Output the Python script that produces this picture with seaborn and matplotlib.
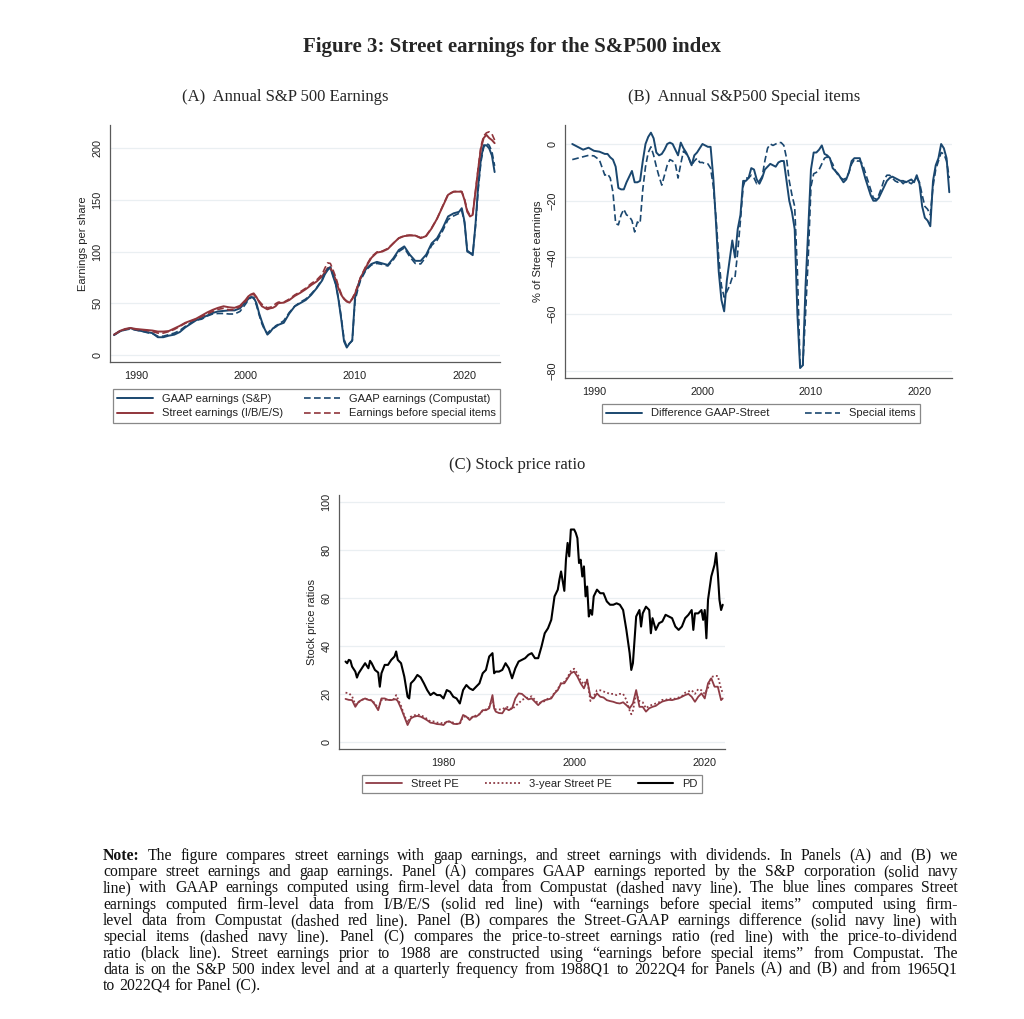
import numpy as np
import matplotlib
matplotlib.use("Agg")
from matplotlib import pyplot as plt
import seaborn as sns

# ---------------- data ----------------
# Panel A: trailing annual S&P 500 EPS
dates_a = [1988.0, 1988.5, 1989.0, 1989.5, 1990.0, 1990.5, 1991.0, 1991.5, 1992.0, 1992.5,
           1993.0, 1993.5, 1994.0, 1994.5, 1995.0, 1995.5, 1996.0, 1996.5, 1997.0, 1997.5,
           1998.0, 1998.5, 1999.0, 1999.5, 2000.0, 2000.25, 2000.5, 2000.75, 2001.0, 2001.25,
           2001.5, 2001.75, 2002.0, 2002.25, 2002.5, 2002.75, 2003.0, 2003.5, 2004.0, 2004.5,
           2005.0, 2005.5, 2006.0, 2006.5, 2007.0, 2007.25, 2007.5, 2007.75, 2008.0, 2008.25,
           2008.5, 2008.75, 2009.0, 2009.25, 2009.5, 2009.75, 2010.0, 2010.25, 2010.5, 2011.0,
           2011.5, 2012.0, 2012.5, 2013.0, 2013.5, 2014.0, 2014.5, 2015.0, 2015.5, 2016.0,
           2016.5, 2017.0, 2017.5, 2018.0, 2018.5, 2019.0, 2019.5, 2019.75, 2020.0, 2020.25,
           2020.5, 2020.75, 2021.0, 2021.25, 2021.5, 2021.75, 2022.0, 2022.25, 2022.5, 2022.75]
gaap_sp = [19, 22.5, 24.5, 25.8, 24, 23, 22, 21, 17, 17,
           18.5, 19.5, 22, 26.5, 30, 33.5, 35.5, 38, 40.5, 42,
           42.5, 43, 43, 45, 51, 54, 56, 55.5, 50, 40,
           32, 25, 19.5, 22, 25.5, 27, 29, 31, 40, 47,
           50, 53, 58, 64.5, 72, 78, 82, 84.5, 76, 68,
           53, 34, 13, 7, 11, 14, 55, 66, 74, 83,
           88, 90, 88.5, 87, 93.5, 101.5, 105, 97, 91, 91,
           97, 108, 113, 122.5, 134, 137, 138.5, 142, 129, 100,
           98.5, 96.5, 126, 164, 190, 203, 203, 200, 193, 177]
gaap_cs = [19.5, 22.5, 24, 25, 24, 23, 21.5, 20.5, 18, 18,
           19.5, 21, 23.5, 27.5, 31, 33.5, 34.5, 37.5, 39.5, 40,
           40, 39.5, 39.5, 42, 49, 53, 55.5, 55, 48, 38.5,
           30, 24, 21, 23.5, 25, 28, 29.5, 33, 41, 47,
           51, 54, 59, 65, 73, 79, 83, 85, 77, 68.5,
           54, 36, 15, 8, 11, 13.5, 52, 63, 72, 82,
           87, 88.5, 87.5, 86, 92, 100, 103.5, 95, 88.5, 88,
           95, 106, 111, 120, 131, 134.5, 137, 139.5, 128, 101,
           99, 98, 124, 160, 187, 201, 205, 203, 197, 183]
street = [19.5, 23, 25, 26, 25, 24.5, 24, 23.5, 22.5, 22.5,
          23, 25.5, 28, 31, 33, 35, 38, 41, 43.5, 45.5,
          47, 46, 45.5, 47.5, 53, 56.5, 58.5, 59.5, 56, 51,
          47, 45.5, 44, 45, 45.5, 47, 50, 50.5, 53, 57,
          60, 63.5, 67.5, 71, 76, 80, 84, 84.5, 79, 72.5,
          64, 58, 54, 51.5, 50.5, 54, 59, 66, 74, 85,
          94, 99, 100, 102.5, 108, 113, 115, 115.5, 115.5, 113,
          115, 122.5, 132, 143.5, 155, 158, 158, 158, 150, 138.5,
          134, 135.5, 158, 180, 200, 210, 213, 210, 208, 205]
ebsi = [19.5, 22.5, 24.5, 25.5, 24.5, 24, 23.5, 22.5, 21, 21,
        22.5, 24.5, 27.5, 30.5, 32.5, 34.5, 37, 39.5, 42, 44,
        45, 43.5, 44, 46.5, 51.5, 55.5, 58, 58.5, 55, 52,
        49, 47, 45.5, 46, 47, 49.5, 51, 51, 54, 58,
        61, 64.5, 69, 72.5, 78, 84, 89, 88.5, 82, 75,
        66, 59, 54.5, 52, 51, 54.5, 60, 67, 75, 86,
        95, 99.5, 100.5, 103, 108, 113, 115.5, 116, 115.5, 113.5,
        115.5, 123, 132, 144, 155.5, 158, 158.5, 158, 151, 140,
        135, 137, 158, 181, 202, 212, 215, 216, 214, 208]

# Panel B: special items, % of Street earnings
dates_b = [1988.0, 1988.5, 1989.0, 1989.5, 1990.0, 1990.5,
           1991.0, 1991.25, 1991.5, 1991.75, 1992.0, 1992.25, 1992.5, 1992.75,
           1993.0, 1993.25, 1993.5, 1993.75, 1994.0, 1994.25, 1994.5, 1994.75,
           1995.0, 1995.25, 1995.5, 1995.75, 1996.0, 1996.25, 1996.5, 1996.75,
           1997.0, 1997.25, 1997.5, 1997.75, 1998.0, 1998.25, 1998.5, 1998.75,
           1999.0, 1999.25, 1999.5, 1999.75, 2000.0, 2000.25, 2000.5, 2000.75,
           2001.0, 2001.25, 2001.5, 2001.75, 2002.0, 2002.25, 2002.5, 2002.75,
           2003.0, 2003.25, 2003.5, 2003.75, 2004.0, 2004.25, 2004.5, 2004.75,
           2005.0, 2005.25, 2005.5, 2005.75, 2006.0, 2006.25, 2006.5, 2006.75,
           2007.0, 2007.25, 2007.5, 2007.75, 2008.0, 2008.25, 2008.5, 2008.75,
           2009.0, 2009.25, 2009.5, 2009.75, 2010.0, 2010.25, 2010.5, 2010.75,
           2011.0, 2011.25, 2011.5, 2011.75, 2012.0, 2012.25, 2012.5, 2012.75,
           2013.0, 2013.25, 2013.5, 2013.75, 2014.0, 2014.25, 2014.5, 2014.75,
           2015.0, 2015.25, 2015.5, 2015.75, 2016.0, 2016.25, 2016.5, 2016.75,
           2017.0, 2017.25, 2017.5, 2017.75, 2018.0, 2018.25, 2018.5, 2018.75,
           2019.0, 2019.25, 2019.5, 2019.75, 2020.0, 2020.25, 2020.5, 2020.75,
           2021.0, 2021.25, 2021.5, 2021.75, 2022.0, 2022.25, 2022.5, 2022.75]
diff_gaap_street = [0, -1, -2, -1.3, -2.4, -2.7,
                    -3.5, -3.5, -4.7, -5.5, -8, -15.5, -16, -16,
                    -13.5, -11.5, -9.5, -13.5, -13.5, -13, -6, 0,
                    2.5, 4, 2, -3, -4, -3.5, -2, 0,
                    0.5, 0, -2, -4, 0.5, -1.5, -3, -5,
                    -7.5, -4, -3, -1.5, 0, -0.5, -1, -1,
                    -12, -28, -45, -55, -59, -48, -41, -34,
                    -40, -30, -25, -13, -13, -12, -8.5, -9,
                    -12.5, -14, -12, -9, -8, -7, -7.5, -8,
                    -6.5, -6, -6, -13, -20, -24, -30, -60,
                    -79, -78, -50, -30, -9, -3, -3, -2,
                    -0.5, -3.5, -4, -5, -8.5, -9.5, -10.5, -12,
                    -13.5, -12.5, -10, -6, -5, -5, -5, -8.5,
                    -12, -15, -18, -20, -20, -19, -17, -15,
                    -13, -12, -11.5, -12, -12.5, -13, -13, -13.5,
                    -13, -12.5, -13.5, -11, -14, -22, -26, -27,
                    -29, -13, -7.5, -5, 0, -1.5, -5, -17]
special_items = [-5.5, -5, -4.5, -4, -4.2, -5.6,
                 -11, -10.5, -12, -17, -28, -28.5, -25, -23,
                 -25, -25.5, -27, -31, -27.5, -28, -16, -8,
                 -3, -1, -4, -8, -11.5, -14.5, -11, -7.5,
                 -5.5, -6, -7, -12, -7, -2.5, -3.5, -5,
                 -7.5, -6, -5, -6.5, -6.5, -7, -7, -8.5,
                 -15, -26, -40, -50, -54, -52, -50, -47,
                 -47, -38, -27, -15, -12, -12, -11, -12,
                 -14, -13, -11.5, -6, -1.5, 0, -0.5, 0,
                 0.5, 0.5, -0.5, -5, -13, -18, -22, -45,
                 -78.5, -78, -60, -40, -15, -10.5, -10, -9,
                 -7, -5, -4.5, -5.5, -7, -9.5, -11, -12,
                 -12.5, -12, -10, -7, -5.5, -6, -6, -7,
                 -10, -13, -16, -19, -19.5, -18, -15.5, -12.5,
                 -11, -11, -12, -13, -13.5, -13, -14, -13,
                 -13.5, -14, -13, -12, -13.5, -18, -22, -23,
                 -25, -15, -9, -6, -3, -3.5, -6, -12]

# Panel C: stock price ratios
dates_pd = [1965.0, 1965.25, 1965.5, 1965.75, 1966.0, 1966.5, 1966.75, 1967.0, 1967.5, 1968.0,
            1968.5, 1968.75, 1969.0, 1969.5, 1970.0, 1970.25, 1970.5, 1971.0, 1971.5, 1972.0,
            1972.5, 1972.75, 1973.0, 1973.5, 1974.0, 1974.5, 1974.75, 1975.0, 1975.5, 1976.0,
            1976.5, 1977.0, 1977.5, 1978.0, 1978.5, 1979.0, 1979.5, 1980.0, 1980.5, 1981.0,
            1981.5, 1982.0, 1982.5, 1983.0, 1983.5, 1984.0, 1984.5, 1985.0, 1985.5, 1986.0,
            1986.5, 1987.0, 1987.5, 1987.75, 1988.0, 1988.5, 1989.0, 1989.5, 1990.0, 1990.5,
            1991.0, 1991.5, 1992.0, 1992.5, 1993.0, 1993.5, 1994.0, 1994.5, 1995.0, 1995.5,
            1996.0, 1996.5, 1997.0, 1997.5, 1997.75, 1998.0, 1998.25, 1998.5, 1998.75, 1999.0,
            1999.25, 1999.5, 2000.0, 2000.25, 2000.5, 2000.75, 2001.0, 2001.25, 2001.5, 2001.75,
            2002.0, 2002.25, 2002.5, 2002.75, 2003.0, 2003.5, 2004.0, 2004.5, 2005.0, 2005.5,
            2006.0, 2006.5, 2007.0, 2007.5, 2008.0, 2008.5, 2008.75, 2009.0, 2009.5, 2010.0,
            2010.25, 2010.5, 2011.0, 2011.5, 2011.75, 2012.0, 2012.5, 2013.0, 2013.5, 2014.0,
            2014.5, 2015.0, 2015.5, 2016.0, 2016.5, 2017.0, 2017.5, 2018.0, 2018.25, 2018.5,
            2019.0, 2019.5, 2019.75, 2020.0, 2020.25, 2020.5, 2021.0, 2021.5, 2021.75, 2022.0,
            2022.25, 2022.5, 2022.75]
price_dividend = [33.5, 32.8, 34.2, 33.9, 31.4, 29.3, 26.8, 28.6, 30.7, 32.8,
                  30.7, 33.8, 32.8, 30, 28.9, 23, 28.6, 32.1, 32.1, 34.2,
                  35.6, 37.7, 34.2, 32.8, 27.2, 18.8, 18.1, 24.4, 25.8, 27.9,
                  26.9, 24.4, 21.6, 19.5, 20.5, 19.5, 19.5, 18.1, 21.6, 20.9,
                  18.8, 18.1, 16, 21.6, 23.7, 22.3, 21.6, 23, 24.4, 28.6,
                  30, 35.6, 37, 28.6, 29.3, 29.3, 30, 32.8, 30.7, 26.5,
                  30.7, 33.5, 34.2, 34.9, 36.3, 37, 34.9, 34.9, 39.7, 45.3,
                  47.4, 50.9, 60.7, 63.5, 67.7, 71.1, 67, 63, 76, 83,
                  77.4, 88.6, 88.6, 87.2, 85, 74.6, 76, 69, 73.2, 60.7,
                  64.8, 52.3, 55, 53, 60.7, 63.5, 62, 62, 58.6, 57.2,
                  57.2, 57.8, 57.2, 55, 46.7, 37, 30, 32.8, 52.3, 55,
                  48.1, 53.6, 56.4, 55, 45.3, 51.6, 46.7, 49.5, 50.2, 53,
                  52.3, 51.6, 48.1, 46.7, 48.1, 51.6, 53, 55, 46.7, 53.6,
                  53.6, 55, 50.9, 55, 43.2, 59.3, 69, 73.9, 78.8, 70.4,
                  59.3, 55, 57.2]
dates_pe = [1965.0, 1965.5, 1966.0, 1966.5, 1967.0, 1967.5, 1968.0, 1968.5, 1969.0, 1969.5,
            1970.0, 1970.5, 1971.0, 1971.5, 1972.0, 1972.5, 1972.75, 1973.0, 1973.5, 1974.0,
            1974.5, 1975.0, 1975.5, 1976.0, 1976.5, 1977.0, 1977.5, 1978.0, 1978.5, 1979.0,
            1979.5, 1980.0, 1980.5, 1981.0, 1981.5, 1982.0, 1982.5, 1983.0, 1983.5, 1984.0,
            1984.5, 1985.0, 1985.5, 1986.0, 1986.5, 1987.0, 1987.5, 1987.75, 1988.0, 1988.5,
            1989.0, 1989.5, 1990.0, 1990.5, 1991.0, 1991.5, 1992.0, 1992.5, 1993.0, 1993.5,
            1994.0, 1994.5, 1995.0, 1995.5, 1996.0, 1996.5, 1997.0, 1997.5, 1998.0, 1998.5,
            1999.0, 1999.5, 2000.0, 2000.5, 2001.0, 2001.5, 2002.0, 2002.5, 2003.0, 2003.5,
            2004.0, 2004.5, 2005.0, 2005.5, 2006.0, 2006.5, 2007.0, 2007.5, 2008.0, 2008.5,
            2008.75, 2009.0, 2009.5, 2010.0, 2010.5, 2011.0, 2011.5, 2012.0, 2012.5, 2013.0,
            2013.5, 2014.0, 2014.5, 2015.0, 2015.5, 2016.0, 2016.5, 2017.0, 2017.5, 2018.0,
            2018.5, 2019.0, 2019.5, 2020.0, 2020.5, 2021.0, 2021.5, 2022.0, 2022.5, 2022.75]
street_pe = [17.9, 17.5, 17.4, 14.6, 16.7, 17.5, 18.1, 17.5, 17.2, 15.5,
             13.2, 18.1, 18.1, 17.5, 17.4, 17.7, 17.7, 17, 14, 10.5,
             7, 9.8, 10.5, 10.8, 10.5, 9.8, 9, 8, 7.8, 7.4,
             7.3, 7, 8.4, 8.4, 7.5, 7.4, 7.7, 11.2, 10.5, 9.1,
             10.5, 10.5, 11.5, 13.2, 13.2, 14, 19.5, 14, 12.6, 12,
             11.9, 14, 13.2, 14, 18.1, 20.2, 20, 18.8, 17.7, 18.1,
             16.7, 15.3, 16.7, 17.4, 17.7, 18.1, 20.2, 21.6, 24.4, 24.4,
             26.5, 28.6, 29.3, 27.2, 24.4, 22.3, 25.8, 18.8, 18.1, 20.2,
             18.8, 18.5, 17.4, 17, 16.7, 16.2, 16, 16.5, 15.3, 14,
             15, 16, 21.6, 14.6, 14.6, 12.6, 14, 14.6, 15, 16,
             16.8, 17.2, 17.5, 17.4, 17.8, 18.1, 18.8, 19.5, 20, 18.8,
             16.7, 18.8, 20.2, 18.1, 24.4, 26.5, 23, 23, 17.4, 18.1]
street_pe_3y = [20.5, 20.3, 19, 15.5, 16.5, 17.5, 18, 17.5, 17.5, 16,
                14, 17.5, 17.5, 17.5, 17.5, 18, 19.5, 18, 15, 11,
                8, 10.5, 11, 11.5, 11, 10.5, 9.5, 8.5, 8.5, 8,
                8, 7.5, 8.5, 8.5, 8, 7.5, 7.5, 10.5, 10.5, 9.5,
                10.5, 11, 11.5, 13, 13.5, 14.5, 18, 14, 13.5, 13.5,
                13.5, 14.5, 14.5, 13.5, 15, 16, 17.5, 18, 18.5, 19,
                17.5, 16, 16.5, 17, 18, 18.5, 20.5, 22, 24.5, 25,
                27, 29.5, 30.5, 28.5, 25.5, 24, 26, 17, 19, 21.5,
                21.5, 21, 20.5, 20, 20, 19.5, 20, 20, 17.5, 13,
                11.5, 13, 20, 17, 16.5, 14, 15, 15.5, 16, 16.5,
                17.5, 17.5, 18, 18, 18, 18.5, 19, 20.5, 21, 21.5,
                20, 22, 21.5, 20, 22.5, 27, 27.5, 27.5, 22, 20.5]

# ---------------- style ----------------
NAVY = "#1a476f"
RED = "#90353b"
MAROON = "#8e3b45"
GRID = "#eaeff2"
AXIS = "#5a5a5a"
W, H = 1024, 1019

sns.set_theme(style="white")
plt.rcParams["font.family"] = ["Liberation Sans", "DejaVu Sans"]
SERIF = ["Liberation Serif", "DejaVu Serif"]

fig = plt.figure(figsize=(W / 100, H / 100), dpi=100)
fig.patch.set_facecolor("white")


def box(x0, y0, x1, y1):
    # pixel box (top-left origin) -> figure fraction rect
    return [x0 / W, 1 - y1 / H, (x1 - x0) / W, (y1 - y0) / H]


def stata_axes(ax, ylabel, yticks, xticks):
    ax.set_facecolor("white")
    for side in ["top", "right"]:
        ax.spines[side].set_visible(False)
    for side in ["left", "bottom"]:
        ax.spines[side].set_color(AXIS)
        ax.spines[side].set_linewidth(0.9)
    ax.set_yticks(yticks)
    ax.set_xticks(xticks)
    ax.grid(True, axis="y", color=GRID, linewidth=0.9)
    ax.grid(False, axis="x")
    ax.set_axisbelow(True)
    ax.tick_params(axis="both", direction="out", length=3.5, width=0.8,
                   color=AXIS, labelsize=7.8, labelcolor="#222222", pad=2)
    ax.tick_params(axis="x", pad=3)
    for lbl in ax.get_yticklabels():
        lbl.set_rotation(90)
        lbl.set_va("center")
    ax.set_ylabel(ylabel, fontsize=8, color="#222222", labelpad=3)
    ax.set_xlabel("")


# ---------------- Panel A ----------------
ax_a = fig.add_axes(box(110, 125, 500, 362))
sns.lineplot(x=dates_a, y=gaap_sp, ax=ax_a, color=NAVY, linewidth=1.4,
             label="GAAP earnings (S&P)")
sns.lineplot(x=dates_a, y=street, ax=ax_a, color=RED, linewidth=1.4,
             label="Street earnings (I/B/E/S)")
sns.lineplot(x=dates_a, y=gaap_cs, ax=ax_a, color=NAVY, linewidth=1.2,
             linestyle=(0, (4, 2)), label="GAAP earnings (Compustat)")
sns.lineplot(x=dates_a, y=ebsi, ax=ax_a, color=RED, linewidth=1.2,
             linestyle=(0, (4, 2)), label="Earnings before special items")
ax_a.set_xlim(1987.63, 2023.24)
ax_a.set_ylim(-7, 222.6)
stata_axes(ax_a, "Earnings per share", [0, 50, 100, 150, 200], [1990, 2000, 2010, 2020])

# ---------------- Panel B ----------------
ax_b = fig.add_axes(box(565, 125, 952, 378))
sns.lineplot(x=dates_b, y=diff_gaap_street, ax=ax_b, color=NAVY, linewidth=1.4,
             label="Difference GAAP-Street")
sns.lineplot(x=dates_b, y=special_items, ax=ax_b, color=NAVY, linewidth=1.2,
             linestyle=(0, (4, 2)), label="Special items")
ax_b.set_xlim(1987.33, 2023.0)
ax_b.set_ylim(-82.5, 6.7)
stata_axes(ax_b, "% of Street earnings", [0, -20, -40, -60, -80], [1990, 2000, 2010, 2020])

# ---------------- Panel C ----------------
ax_c = fig.add_axes(box(339, 495, 725, 749))
sns.lineplot(x=dates_pe, y=street_pe, ax=ax_c, color=MAROON, linewidth=1.3,
             label="Street PE")
sns.lineplot(x=dates_pe, y=street_pe_3y, ax=ax_c, color=MAROON, linewidth=1.3,
             linestyle=(0, (1, 1.3)), label="3-year Street PE")
sns.lineplot(x=dates_pd, y=price_dividend, ax=ax_c, color="black", linewidth=1.5,
             label="PD")
ax_c.set_xlim(1964.0, 2023.1)
ax_c.set_ylim(-3, 103)
stata_axes(ax_c, "Stock price ratios", [0, 20, 40, 60, 80, 100], [1980, 2000, 2020])

# ---------------- legends ----------------
def stata_legend(ax, rect, ncol, spacing=0.25):
    handles, labels = ax.get_legend_handles_labels()
    if ax.get_legend() is not None:
        ax.get_legend().remove()
    leg = fig.legend(handles, labels, loc="center", bbox_to_anchor=box(*rect),
                     mode="expand", ncol=ncol, fontsize=8, frameon=True,
                     fancybox=False, shadow=False, handlelength=3.2,
                     handletextpad=0.8, borderpad=0.4, labelspacing=spacing,
                     columnspacing=1.5, borderaxespad=0)
    leg.get_frame().set_edgecolor("#6b6b6b")
    leg.get_frame().set_linewidth(0.9)
    for t in leg.get_texts():
        t.set_color("#222222")
    return leg


stata_legend(ax_a, (113, 388, 500, 424), 2, spacing=0.45)
stata_legend(ax_b, (602, 403, 920, 424), 2)
stata_legend(ax_c, (362, 773, 702, 795), 3)

# ---------------- titles ----------------
fig.text(512 / W, 1 - 47 / H, "Figure 3: Street earnings for the S&P500 index",
         ha="center", va="center", fontsize=15, fontweight="bold", family=SERIF)
fig.text(285 / W, 1 - 97 / H, "(A)  Annual S&P 500 Earnings", ha="center", va="center",
         fontsize=12, family=SERIF)
fig.text(744 / W, 1 - 97 / H, "(B)  Annual S&P500 Special items", ha="center", va="center",
         fontsize=12, family=SERIF)
fig.text(517 / W, 1 - 465 / H, "(C) Stock price ratio", ha="center", va="center",
         fontsize=12, family=SERIF)

# ---------------- justified note ----------------
note_lines = [
    "Note: The figure compares street earnings with gaap earnings, and street earnings with dividends. In Panels (A) and (B) we",
    "compare street earnings and gaap earnings. Panel (A) compares GAAP earnings reported by the S&P corporation (solid navy",
    "line) with GAAP earnings computed using firm-level data from Compustat (dashed navy line). The blue lines compares Street",
    "earnings computed firm-level data from I/B/E/S (solid red line) with \u201cearnings before special items\u201d computed using firm-",
    "level data from Compustat (dashed red line). Panel (B) compares the Street-GAAP earnings difference (solid navy line) with",
    "special items (dashed navy line). Panel (C) compares the price-to-street earnings ratio (red line) with the price-to-dividend",
    "ratio (black line). Street earnings prior to 1988 are constructed using \u201cearnings before special items\u201d from Compustat. The",
    "data is on the S&P 500 index level and at a quarterly frequency from 1988Q1 to 2022Q4 for Panels (A) and (B) and from 1965Q1",
    "to 2022Q4 for Panel (C).",
]
renderer = fig.canvas.get_renderer()
x_left, x_right = 103, 958
line_y0, line_step = 860, 16.25


def word_width(word, size, weight):
    t = fig.text(0, 0, word, fontsize=size, fontweight=weight, family=SERIF)
    wpx = t.get_window_extent(renderer).width
    t.remove()
    return wpx


note_size = 11.3
widest = 0
for line in note_lines[:-1]:
    words = line.split(" ")
    tot = sum(word_width(w, note_size, "bold" if (i == 0 and w == "Note:") else "normal")
              for i, w in enumerate(words))
    tot += 1.6 * (len(words) - 1)
    widest = max(widest, tot)
if widest > x_right - x_left:
    note_size *= (x_right - x_left) / widest

for k, line in enumerate(note_lines):
    words = line.split(" ")
    weights = ["bold" if (i == 0 and w == "Note:") else "normal" for i, w in enumerate(words)]
    widths = [word_width(w, note_size, wt) for w, wt in zip(words, weights)]
    if k < len(note_lines) - 1:
        gap = (x_right - x_left - sum(widths)) / (len(words) - 1)
    else:
        gap = word_width("a a", note_size, "normal") - 2 * word_width("a", note_size, "normal")
    x = x_left
    y = line_y0 + k * line_step
    for w, wt, wd in zip(words, weights, widths):
        fig.text(x / W, 1 - y / H, w, fontsize=note_size, fontweight=wt, family=SERIF,
                 ha="left", va="baseline", color="#111111")
        x += wd + gap

plt.savefig("out.png", dpi=100, facecolor="white")
